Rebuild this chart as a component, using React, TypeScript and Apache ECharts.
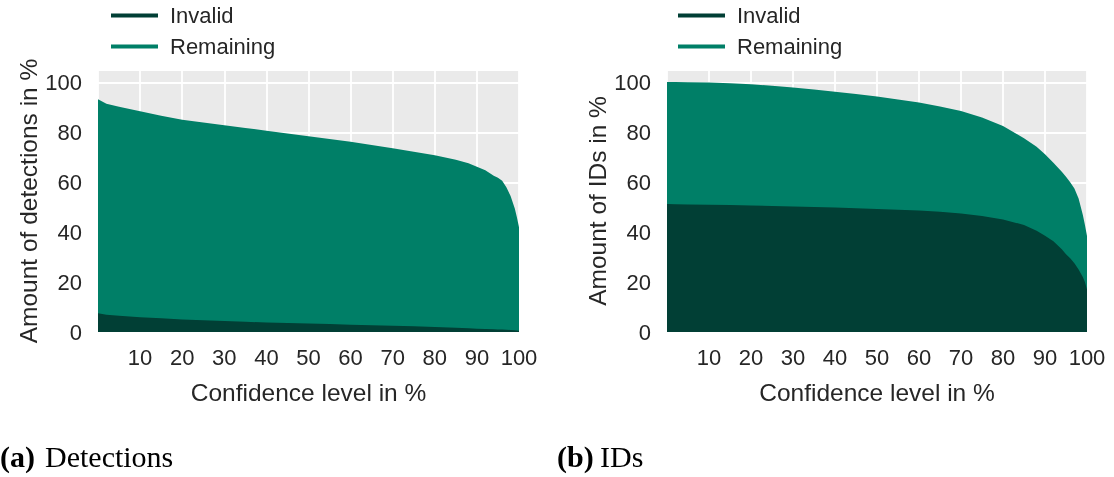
import React, { useEffect, useRef } from "react";
import * as echarts from "echarts";

const confidence = [0, 2, 5, 10, 15, 20, 25, 30, 35, 40, 45, 50, 55, 60, 65, 70, 75, 80, 85, 88, 90, 92, 94, 95, 96, 97, 98, 99, 99.5, 100];

// Panel (a) Detections: lower band (Invalid) and upper edge of the Remaining band
const detInvalid = [7.5, 6.9, 6.5, 5.9, 5.5, 5.0, 4.7, 4.4, 4.1, 3.8, 3.6, 3.4, 3.2, 2.9, 2.7, 2.5, 2.3, 2.0, 1.7, 1.5, 1.3, 1.2, 1.1, 1.0, 1.0, 0.9, 0.8, 0.7, 0.6, 0.5];
const detRemainingTop = [93.3, 91.5, 90.3, 88.5, 86.7, 85.1, 84.0, 82.9, 81.8, 80.7, 79.6, 78.4, 77.3, 76.2, 74.9, 73.6, 72.2, 70.8, 69.0, 67.6, 66.2, 64.8, 62.6, 61.8, 60.6, 58.0, 54.5, 49.5, 46.0, 42.0];

// Panel (b) IDs
const idInvalid = [51.3, 51.2, 51.1, 51.0, 50.9, 50.7, 50.5, 50.3, 50.1, 49.9, 49.6, 49.3, 49.0, 48.7, 48.2, 47.5, 46.5, 45.1, 42.9, 40.6, 38.6, 36.4, 33.2, 31.2, 29.6, 27.6, 25.0, 22.0, 20.0, 17.0];
const idRemainingTop = [100.2, 100.2, 100.1, 100.0, 99.7, 99.3, 98.7, 98.0, 97.2, 96.3, 95.4, 94.4, 93.2, 92.0, 90.4, 88.6, 86.0, 82.6, 77.6, 74.2, 71.2, 67.8, 64.2, 62.2, 60.0, 57.5, 53.5, 47.0, 43.0, 38.5];

const seriesNames = ["Invalid", "Remaining"];
const xTickInterval = 10;
const yTickInterval = 20;
const yAxisNames = ["Amount of detections in %", "Amount of IDs in %"];
const xAxisName = "Confidence level in %";
const captions = [
  { tag: "(a)", text: "Detections" },
  { tag: "(b)", text: "IDs" },
];

const COLORS = ["#013f35", "#007f67"];
const TEXT = "#262626";
const FONT = "Liberation Sans";

export default function App() {
  const ref = useRef<HTMLDivElement>(null);

  useEffect(() => {
    if (!ref.current) return;
    const chart = echarts.init(ref.current, undefined, { renderer: "svg" });

    const grids = [
      { left: 98, top: 70, width: 421, height: 262 },
      { left: 667, top: 70, width: 420, height: 262 },
    ];

    const pairs = (ys: number[]) => confidence.map((x, i) => [x, ys[i]]);
    const panels = [
      [detInvalid, detRemainingTop],
      [idInvalid, idRemainingTop],
    ];

    const series: any[] = [];
    panels.forEach((vals, p) => {
      // draw Remaining (upper band) first, Invalid on top of it
      [1, 0].forEach((s) => {
        series.push({
          name: seriesNames[s],
          type: "line",
          xAxisIndex: p,
          yAxisIndex: p,
          data: pairs(vals[s]),
          symbol: "none",
          showSymbol: false,
          z: s === 0 ? 3 : 2,
          color: COLORS[s],
          lineStyle: { width: 0, color: COLORS[s] },
          itemStyle: { color: COLORS[s] },
          areaStyle: { color: COLORS[s], opacity: 1, origin: "start" },
          emphasis: { disabled: true },
        });
      });
    });

    const legendLeft = [106, 673];

    chart.setOption({
      animation: false,
      textStyle: { fontFamily: FONT },
      grid: grids.map((g) => ({
        ...g,
        show: true,
        backgroundColor: "#eaeaea",
        borderWidth: 0,
      })),
      legend: legendLeft.map((l) => ({
        left: l,
        top: -1,
        orient: "vertical",
        data: seriesNames,
        icon: "rect",
        itemWidth: 47,
        itemHeight: 4,
        itemGap: 8,
        selectedMode: false,
        textStyle: {
          fontFamily: FONT,
          fontSize: 22,
          color: TEXT,
          lineHeight: 23,
          padding: [0, 0, 0, 7],
        },
      })),
      xAxis: grids.map((_, i) => ({
        type: "value",
        gridIndex: i,
        min: 0,
        max: 100,
        interval: xTickInterval,
        name: xAxisName,
        nameLocation: "middle",
        nameGap: 48,
        nameTextStyle: { fontFamily: FONT, fontSize: 24.5, color: TEXT },
        axisLine: { show: false },
        axisTick: { show: false },
        axisLabel: {
          showMinLabel: false,
          margin: 14,
          fontFamily: FONT,
          fontSize: 22,
          color: TEXT,
        },
        splitLine: { show: true, lineStyle: { color: "#ffffff", width: 1.8 } },
      })),
      yAxis: grids.map((_, i) => ({
        type: "value",
        gridIndex: i,
        min: 0,
        max: 105,
        interval: yTickInterval,
        name: yAxisNames[i],
        nameLocation: "middle",
        nameGap: 56,
        nameTextStyle: { fontFamily: FONT, fontSize: 24.5, color: TEXT },
        axisLine: { show: false },
        axisTick: { show: false },
        axisLabel: {
          showMaxLabel: false,
          margin: 16,
          fontFamily: FONT,
          fontSize: 22,
          color: TEXT,
          formatter: (v: number) => (v > 100 ? "" : String(v)),
        },
        splitLine: { show: true, lineStyle: { color: "#ffffff", width: 1.8 } },
      })),
      graphic: [
        {
          type: "text",
          left: 0,
          top: 441,
          style: {
            text: captions[0].tag,
            font: "bold 30px 'Liberation Serif'",
            fill: "#000",
          },
        },
        {
          type: "text",
          left: 45,
          top: 441,
          style: {
            text: captions[0].text,
            font: "30px 'Liberation Serif'",
            fill: "#000",
          },
        },
        {
          type: "text",
          left: 557,
          top: 441,
          style: {
            text: captions[1].tag,
            font: "bold 30px 'Liberation Serif'",
            fill: "#000",
          },
        },
        {
          type: "text",
          left: 600,
          top: 441,
          style: {
            text: captions[1].text,
            font: "30px 'Liberation Serif'",
            fill: "#000",
          },
        },
      ],
      series,
    });

    return () => chart.dispose();
  }, []);

  return (
    <div
      ref={ref}
      style={{ position: "fixed", left: 0, top: 0, width: 1114, height: 477 }}
    />
  );
}
